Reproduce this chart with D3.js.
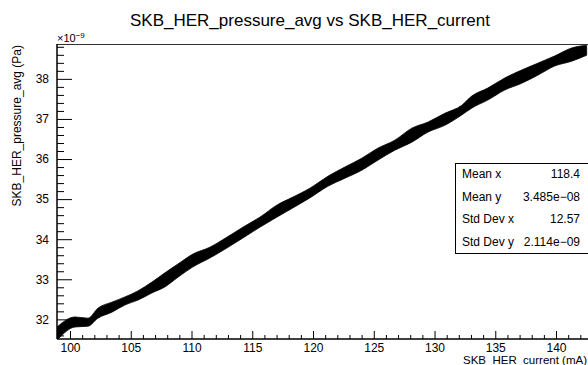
<!DOCTYPE html>
<html>
<head>
<meta charset="utf-8">
<script src="https://cdn.jsdelivr.net/npm/d3@7"></script>
<style>
  body { margin: 0; background: #fff; }
  svg { display: block; font-family: "Liberation Sans", Arial, sans-serif; }
</style>
</head>
<body>
<div id="chart"></div>
<script>
// band of the scatter (x in mA, y in 1e-9 Pa)
const bandX = [98.93, 100.41, 101.48, 102.30, 103.45, 104.52, 105.59, 106.74, 107.81, 108.88,
  110.12, 111.51, 112.91, 114.23, 115.63, 117.02, 118.34, 119.74, 121.22, 122.62,
  124.01, 125.33, 126.73, 128.13, 129.44, 130.84, 132.24, 133.06, 134.38, 135.77,
  137.17, 138.49, 139.88, 141.28, 142.52];
const bandHi = [31.81, 32.06, 32.03, 32.28, 32.43, 32.56, 32.71, 32.93, 33.16, 33.38,
  33.63, 33.80, 34.05, 34.30, 34.55, 34.85, 35.05, 35.27, 35.57, 35.80,
  36.02, 36.27, 36.47, 36.77, 36.92, 37.14, 37.34, 37.57, 37.77, 38.02,
  38.22, 38.39, 38.57, 38.77, 38.84];
const bandLo = [31.48, 31.81, 31.83, 32.03, 32.18, 32.36, 32.48, 32.66, 32.81, 33.05,
  33.31, 33.53, 33.78, 34.03, 34.30, 34.55, 34.78, 35.03, 35.32, 35.52,
  35.72, 35.97, 36.22, 36.42, 36.67, 36.84, 37.10, 37.27, 37.47, 37.72,
  37.89, 38.09, 38.32, 38.44, 38.59];

const xTicks = [100, 105, 110, 115, 120, 125, 130, 135, 140];
const yTicks = [32, 33, 34, 35, 36, 37, 38];
const statNames = ['Mean x', 'Mean y', 'Std Dev x', 'Std Dev y'];
const statValues = ['118.4', '3.485e\u221208', '12.57', '2.114e\u221209'];

const width = 588, height = 365;
const margin = { top: 44, right: -30, bottom: 26, left: 57 };

const svg = d3.select('#chart').append('svg')
  .attr('width', width)
  .attr('height', height);

const x = d3.scaleLinear()
  .domain([98.93, 145.1])
  .range([margin.left, width - margin.right]);
const y = d3.scaleLinear()
  .domain([31.51, 38.87])
  .range([height - margin.bottom, margin.top]);

svg.append('clipPath').attr('id', 'plot')
  .append('rect')
  .attr('x', margin.left).attr('y', margin.top)
  .attr('width', width - margin.left).attr('height', y(31.51) - margin.top);

// scatter band
const band = bandX.map((d, i) => ({ x: d, lo: bandLo[i], hi: bandHi[i] }));
svg.append('path')
  .datum(band)
  .attr('clip-path', 'url(#plot)')
  .attr('fill', '#000')
  .attr('stroke', '#000')
  .attr('stroke-width', 0.8)
  .attr('d', d3.area()
    .curve(d3.curveMonotoneX)
    .x(d => x(d.x))
    .y0(d => y(d.lo))
    .y1(d => y(d.hi)));

// frame
svg.append('line')
  .attr('x1', margin.left).attr('x2', width)
  .attr('y1', margin.top + 0.5).attr('y2', margin.top + 0.5)
  .attr('stroke', '#333');

// x axis
const xMinor = d3.range(99, 143, 1).filter(v => v % 5 !== 0);
const gx = svg.append('g')
  .attr('transform', `translate(0,${y(31.51)})`);
gx.call(d3.axisBottom(x).tickValues(xMinor).tickSize(-4).tickFormat(''));
gx.call(g => g.append('g').call(d3.axisBottom(x).tickValues(xTicks).tickSize(-8).tickFormat(d3.format('d'))));
gx.selectAll('.domain').attr('d', `M${margin.left},0H${width}`);
gx.selectAll('text').attr('dy', 0).attr('y', 13).attr('font-size', 12).attr('fill', '#000');

// y axis
const yMinor = d3.range(316, 389, 2).map(v => v / 10).filter(v => Math.abs(v - Math.round(v)) > 0.01);
const gy = svg.append('g')
  .attr('transform', `translate(${margin.left},0)`);
gy.call(d3.axisLeft(y).tickValues(yMinor).tickSize(-7).tickFormat(''));
gy.call(g => g.append('g').call(d3.axisLeft(y).tickValues(yTicks).tickSize(-15).tickFormat(d3.format('d'))));
gy.selectAll('.domain').attr('d', `M0,${margin.top}V${y(31.51)}`);
gy.selectAll('text').attr('x', -8).attr('font-size', 12).attr('fill', '#000');
svg.selectAll('.tick line').attr('stroke', '#000');

// exponent
const ex = svg.append('text')
  .attr('x', margin.left).attr('y', 42)
  .attr('font-size', 11).attr('fill', '#000');
ex.append('tspan').text('\u00d710');
ex.append('tspan').attr('dy', -4).attr('font-size', 8).text('\u22129');

// title
svg.append('text')
  .attr('x', 310).attr('y', 26)
  .attr('text-anchor', 'middle')
  .attr('font-size', 17)
  .text('SKB_HER_pressure_avg vs SKB_HER_current');

// axis titles
svg.append('text')
  .attr('text-anchor', 'end')
  .attr('transform', `translate(21,${margin.top + 1}) rotate(-90)`)
  .attr('font-size', 12)
  .text('SKB_HER_pressure_avg (Pa)');
svg.append('text')
  .attr('x', 587).attr('y', 364)
  .attr('text-anchor', 'end')
  .attr('font-size', 11.5)
  .text('SKB_HER_current (mA)');

// stats box
const box = { x: 455, y: 163, w: 150, h: 90 };
svg.append('rect')
  .attr('x', box.x + 0.5).attr('y', box.y + 0.5)
  .attr('width', box.w).attr('height', box.h)
  .attr('fill', '#fff').attr('stroke', '#000');
const rowH = box.h / statNames.length;
svg.selectAll('.statName').data(statNames).enter().append('text')
  .attr('x', box.x + 7)
  .attr('y', (d, i) => box.y + rowH * (i + 0.5) + 4)
  .attr('font-size', 12)
  .text(d => d);
svg.selectAll('.statVal').data(statValues).enter().append('text')
  .attr('x', 580)
  .attr('y', (d, i) => box.y + rowH * (i + 0.5) + 4)
  .attr('text-anchor', 'end')
  .attr('font-size', 12)
  .text(d => d);
</script>
</body>
</html>
